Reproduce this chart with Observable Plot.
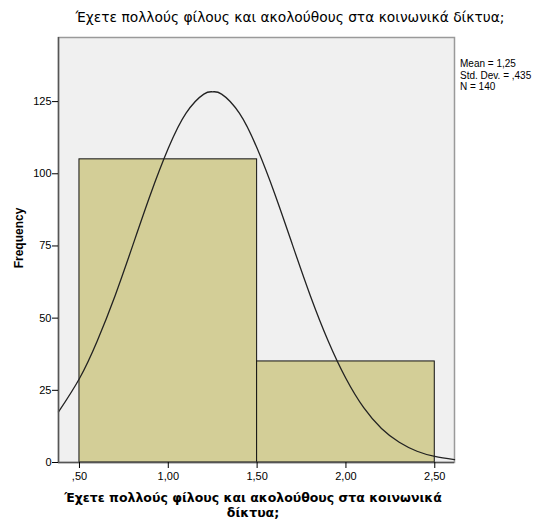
<!DOCTYPE html>
<html>
<head>
<meta charset="utf-8">
<script src="https://cdn.jsdelivr.net/npm/d3@7"></script>
<script src="https://cdn.jsdelivr.net/npm/@observablehq/plot@0.6"></script>
<style>
  body { margin: 0; background: #fff; }
  #wrap { position: relative; width: 538px; height: 527px; font-family: "Liberation Sans", Arial, sans-serif; color: #000; }
  .t { position: absolute; white-space: nowrap; }
</style>
</head>
<body>
<div id="wrap"></div>
<script>
// Data
const binStart = [0.5, 1.5];
const binEnd = [1.5, 2.5];
const frequency = [105, 35];

// Normal curve points (x, frequency)
const curveX = [0.382, 0.5, 0.6, 0.7, 0.8, 0.9, 1.0, 1.1, 1.2, 1.25, 1.3, 1.4, 1.5, 1.6, 1.7, 1.8, 1.9, 2.0, 2.1, 2.2, 2.3, 2.4, 2.5, 2.611];
const curveY = [17.5, 29.1, 42.1, 57.7, 75.2, 92.9, 108.8, 121.0, 127.6, 128.4, 127.6, 121.0, 108.8, 92.9, 75.2, 57.7, 42.1, 29.1, 19.0, 11.8, 7.0, 3.9, 2.1, 1.0];

const xTicks = [0.5, 1.0, 1.5, 2.0, 2.5];
const xTickLabels = [",50", "1,00", "1,50", "2,00", "2,50"];
const yTicks = [0, 25, 50, 75, 100, 125];
const yTickLabels = ["0", "25", "50", "75", "100", "125"];

const title = "Έχετε πολλούς φίλους και ακολούθους στα κοινωνικά δίκτυα;";
const xLabel1 = "Έχετε πολλούς φίλους και ακολούθους στα κοινωνικά";
const xLabel2 = "δίκτυα;";
const yLabel = "Frequency";
const stats = ["Mean = 1,25", "Std. Dev. = ,435", "N = 140"];

const bins = binStart.map((s, i) => ({x1: s, x2: binEnd[i], y: frequency[i]}));
const curve = curveX.map((x, i) => ({x, y: curveY[i]}));

const xDomain = [0.382, 2.611];
const yDomain = [0, 147.2];

const chart = Plot.plot({
  width: 538,
  height: 527,
  marginLeft: 58,
  marginRight: 84,
  marginTop: 37,
  marginBottom: 65,
  style: {fontFamily: "'Liberation Sans', Arial, sans-serif", fontSize: "11px", color: "#000", background: "#fff"},
  x: {domain: xDomain},
  y: {domain: yDomain},
  marks: [
    Plot.frame({fill: "#f0f0f0", stroke: "#9a9a9a", strokeWidth: 1.5}),
    Plot.rectY(bins, {x1: "x1", x2: "x2", y: "y", fill: "#d3ce97", stroke: "#111", strokeWidth: 1}),
    Plot.line(curve, {x: "x", y: "y", curve: "natural", stroke: "#222", strokeWidth: 1.3}),
    Plot.ruleX([xDomain[0]], {stroke: "#555", strokeWidth: 1.5}),
    Plot.ruleY([0], {stroke: "#555", strokeWidth: 1.5}),
    Plot.axisY({ticks: yTicks, tickFormat: d => yTickLabels[yTicks.indexOf(d)], tickSize: 6, tickPadding: 1, label: null, stroke: "#000", fontSize: 11}),
    Plot.axisX({ticks: xTicks, tickFormat: d => xTickLabels[xTicks.indexOf(d)], tickSize: 6, tickPadding: 4, label: null, stroke: "#000", fontSize: 11})
  ]
});

const wrap = document.getElementById("wrap");
wrap.appendChild(chart);
chart.style.position = "absolute";
chart.style.left = "0";
chart.style.top = "0";

function addText(txt, css) {
  const d = document.createElement("div");
  d.className = "t";
  d.textContent = txt;
  Object.assign(d.style, css);
  wrap.appendChild(d);
  return d;
}
addText(title, {left: "0", width: "580px", textAlign: "center", top: "9px", fontSize: "13.8px", fontFamily: "'DejaVu Sans', sans-serif"});
addText(xLabel1, {left: "0", width: "506px", textAlign: "center", top: "490px", fontSize: "12.5px", fontWeight: "bold", fontFamily: "'DejaVu Sans', sans-serif"});
addText(xLabel2, {left: "0", width: "506px", textAlign: "center", top: "505px", fontSize: "12.5px", fontWeight: "bold", fontFamily: "'DejaVu Sans', sans-serif"});
addText(yLabel, {left: "19px", top: "238px", fontSize: "12px", fontWeight: "bold", transform: "translate(-50%, -50%) rotate(-90deg)"});
stats.forEach((s, i) => addText(s, {left: "460px", top: (58 + i * 11.5) + "px", fontSize: "10px", lineHeight: "11px"}));
</script>
</body>
</html>
